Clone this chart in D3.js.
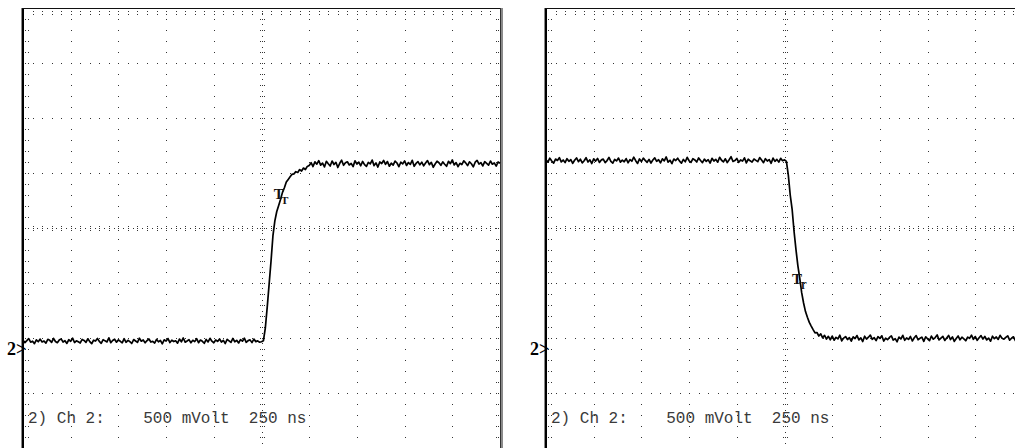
<!DOCTYPE html>
<html>
<head>
<meta charset="utf-8">
<script src="https://d3js.org/d3.v7.min.js"></script>
<style>
  html, body { margin: 0; padding: 0; background: #fff; }
  svg { display: block; }
  .readout { font-family: "Liberation Mono", "Courier New", monospace; font-size: 16px; fill: #3a3a3a; white-space: pre; }
  .gnd { font-family: "Liberation Serif", serif; font-weight: bold; font-size: 18px; fill: #000; }
  .mark { font-family: "Liberation Serif", serif; font-weight: bold; fill: #111; }
</style>
</head>
<body>
<div id="container"></div>
<script>
// scope settings: 250 ns/div, 500 mV/div, 10 x 8 divisions
var timeTicks = [0, 250, 500, 750, 1000, 1250, 1500, 1750, 2000, 2250, 2500];   // ns
var voltTicks = [-900, -400, 100, 600, 1100, 1600, 2100, 2600, 3100];          // mV
var sampleStep = 10;   // ns between samples
var readout = "2) Ch 2:    500 mVolt  250 ns";
var gndLabel = "2>";
var markerLabel = "T";

// channel 2 samples, mV, one every 10 ns (rising edge)
var leftMv = [
  80,58,76,95,62,71,49,83,66,90,
  64,73,54,88,79,60,97,68,57,81,
  92,63,75,51,84,70,99,59,74,66,
  55,87,78,61,93,67,48,80,72,96,
  69,52,85,74,64,101,58,77,89,62,
  83,70,56,94,61,79,67,50,86,73,
  60,98,71,82,57,76,91,63,69,54,
  88,65,78,47,84,72,95,59,80,68,
  75,53,90,66,100,62,73,85,56,79,
  67,94,58,81,70,52,87,64,97,71,
  57,82,69,91,63,78,50,88,74,60,
  96,66,79,55,85,71,99,61,76,83,
  58,90,67,74,62,66,75,190,380,590,
  800,1030,1165,1250,1305,1362,1424,1466,1518,1542,
  1565,1588,1592,1612,1605,1631,1618,1645,1632,1660,
  1668,1694,1659,1701,1680,1712,1671,1690,1655,1706,
  1684,1663,1709,1677,1697,1650,1688,1716,1670,1693,
  1702,1673,1687,1658,1711,1681,1699,1666,1705,1676,
  1660,1696,1683,1718,1667,1692,1654,1700,1686,1714,
  1679,1704,1662,1689,1672,1708,1691,1657,1698,1683,
  1710,1669,1695,1678,1715,1661,1687,1703,1674,1699,
  1665,1690,1713,1676,1697,1652,1682,1707,1693,1670,
  1701,1680,1661,1706,1685,1719,1673,1694,1658,1688,
  1677,1711,1692,1667,1702,1684,1656,1698,1714,1681,
  1695,1664,1703,1687,1671,1709,1680,1692,1663,1700,
  1688
];

// channel 2 samples, mV, one every 10 ns (falling edge)
var rightMv = [
  1721,1698,1735,1709,1690,1727,1714,1740,1701,1718,
  1695,1730,1706,1722,1688,1716,1737,1703,1725,1692,
  1711,1739,1700,1720,1686,1729,1708,1733,1696,1719,
  1726,1694,1713,1741,1705,1689,1723,1710,1736,1699,
  1717,1702,1731,1693,1722,1707,1744,1712,1687,1728,
  1704,1735,1715,1697,1724,1691,1718,1738,1706,1721,
  1693,1729,1710,1746,1699,1716,1685,1727,1713,1734,
  1708,1689,1723,1702,1742,1711,1696,1730,1719,1700,
  1737,1714,1694,1726,1706,1721,1690,1733,1709,1724,
  1698,1743,1716,1701,1729,1695,1720,1748,1705,1713,
  1732,1697,1719,1708,1738,1692,1725,1711,1699,1727,
  1715,1703,1740,1718,1694,1730,1709,1722,1688,1735,
  1706,1724,1699,1733,1712,1720,1705,1580,1400,1270,
  1070,905,758,642,512,418,340,288,242,208,
  176,146,150,118,138,102,124,90,115,84,
  118,80,106,92,125,74,99,113,86,104,
  71,110,95,122,83,101,68,116,90,107,
  127,88,103,77,112,96,120,72,98,85,
  105,119,81,94,66,109,91,124,79,100,
  87,114,73,102,121,84,97,108,70,111,
  93,76,117,89,104,128,82,99,115,78,
  101,123,86,110,69,96,118,84,107,92,
  75,108,97,126,88,113,79,102,121,90,
  114,82,99,71,116,94,109,87,124,97,
  89,106,120,80,98,111,76,103,92,117,
  100
];

// cursor markers (time ns, level mV)
var markerT = [1356, 1331];
var markerMv = [1400, 630];

var W = 1015, H = 448;
var svg = d3.select("#container").append("svg")
  .attr("width", W).attr("height", H);

var panels = [
  { data: leftMv,  x0: 23,  x1: 500, gx: 7 },
  { data: rightMv, x0: 546, x1: 1023, gx: 530 }
];

var y = d3.scaleLinear().domain([voltTicks[0], voltTicks[voltTicks.length - 1]]).range([448, 8]);

function dot(g, px, py) {
  g.append("rect").attr("x", Math.round(px)).attr("y", Math.round(py))
    .attr("width", 1).attr("height", 1);
}

panels.forEach(function(p, k) {
  var x = d3.scaleLinear().domain([timeTicks[0], timeTicks[timeTicks.length - 1]]).range([p.x0, p.x1]);
  var g = svg.append("g");
  var grid = g.append("g").attr("fill", "#333");

  var tMin = timeTicks[0], tMax = timeTicks[timeTicks.length - 1];
  var vMin = voltTicks[0], vMax = voltTicks[voltTicks.length - 1];
  var tMid = timeTicks[5], vMid = voltTicks[4];
  var minorT = d3.range(tMin, tMax + 1, 50);
  var minorV = d3.range(vMin, vMax + 1, 100);

  // major grid lines (dotted at each minor step)
  timeTicks.slice(1, -1).forEach(function(t) {
    if (t === tMid) return;
    minorV.forEach(function(v) { dot(grid, x(t), y(v)); });
  });
  voltTicks.slice(1, -1).forEach(function(v) {
    if (v === vMid) return;
    minorT.forEach(function(t) { dot(grid, x(t), y(v)); });
  });

  // centre axes with small ticks
  d3.range(tMin, tMax + 1, 25).forEach(function(t, i) {
    var cy = y(vMid);
    dot(grid, x(t), cy);
    if (i % 2 === 0) { dot(grid, x(t), cy - 2); dot(grid, x(t), cy + 2); }
  });
  d3.range(vMin, vMax + 1, 50).forEach(function(v, i) {
    var cx = x(tMid);
    dot(grid, cx, y(v));
    if (i % 2 === 0) { dot(grid, cx - 2, y(v)); dot(grid, cx + 2, y(v)); }
  });

  // edge ticks
  minorV.forEach(function(v) {
    dot(grid, p.x0 + 2, y(v)); dot(grid, p.x0 + 5, y(v));
    dot(grid, p.x1 - 4, y(v)); dot(grid, p.x1 - 2, y(v));
  });
  minorT.forEach(function(t) {
    dot(grid, x(t), 11); dot(grid, x(t), 14);
  });

  // frame
  g.append("rect").attr("x", p.x0 - 2).attr("y", 8).attr("width", 1).attr("height", 440).attr("fill", "#8a8a8a");
  g.append("rect").attr("x", p.x0 - 1).attr("y", 8).attr("width", 2).attr("height", 440).attr("fill", "#000");
  g.append("rect").attr("x", p.x0 - 1).attr("y", 8).attr("width", p.x1 - p.x0 + 1).attr("height", 1).attr("fill", "#111");
  g.append("rect").attr("x", p.x1).attr("y", 8).attr("width", 1).attr("height", 440).attr("fill", "#333");
  g.append("rect").attr("x", p.x1 + 1).attr("y", 8).attr("width", 2).attr("height", 440).attr("fill", "#8a8a8a");

  // trace
  var line = d3.line()
    .x(function(d, i) { return x(i * sampleStep); })
    .y(function(d) { return y(d); });
  g.append("path").datum(p.data)
    .attr("d", line)
    .attr("fill", "none")
    .attr("stroke", "#000")
    .attr("stroke-width", 1.7)
    .attr("stroke-linejoin", "round");

  // cursor marker: large T with a small T below right
  var mx = x(markerT[k]), my = y(markerMv[k]);
  g.append("text").attr("class", "mark").attr("font-size", 15)
    .attr("x", mx - 3).attr("y", my + 4).attr("text-anchor", "middle").text(markerLabel);
  g.append("text").attr("class", "mark").attr("font-size", 11)
    .attr("x", mx + 3).attr("y", my + 9).attr("text-anchor", "middle").text(markerLabel);

  // ground marker
  g.append("text").attr("class", "gnd")
    .attr("x", p.gx).attr("y", y(0) + 6).text(gndLabel);

  // readout
  g.append("text").attr("class", "readout")
    .attr("xml:space", "preserve")
    .attr("x", p.x0 + 5).attr("y", 423).text(readout);
});
</script>
</body>
</html>
